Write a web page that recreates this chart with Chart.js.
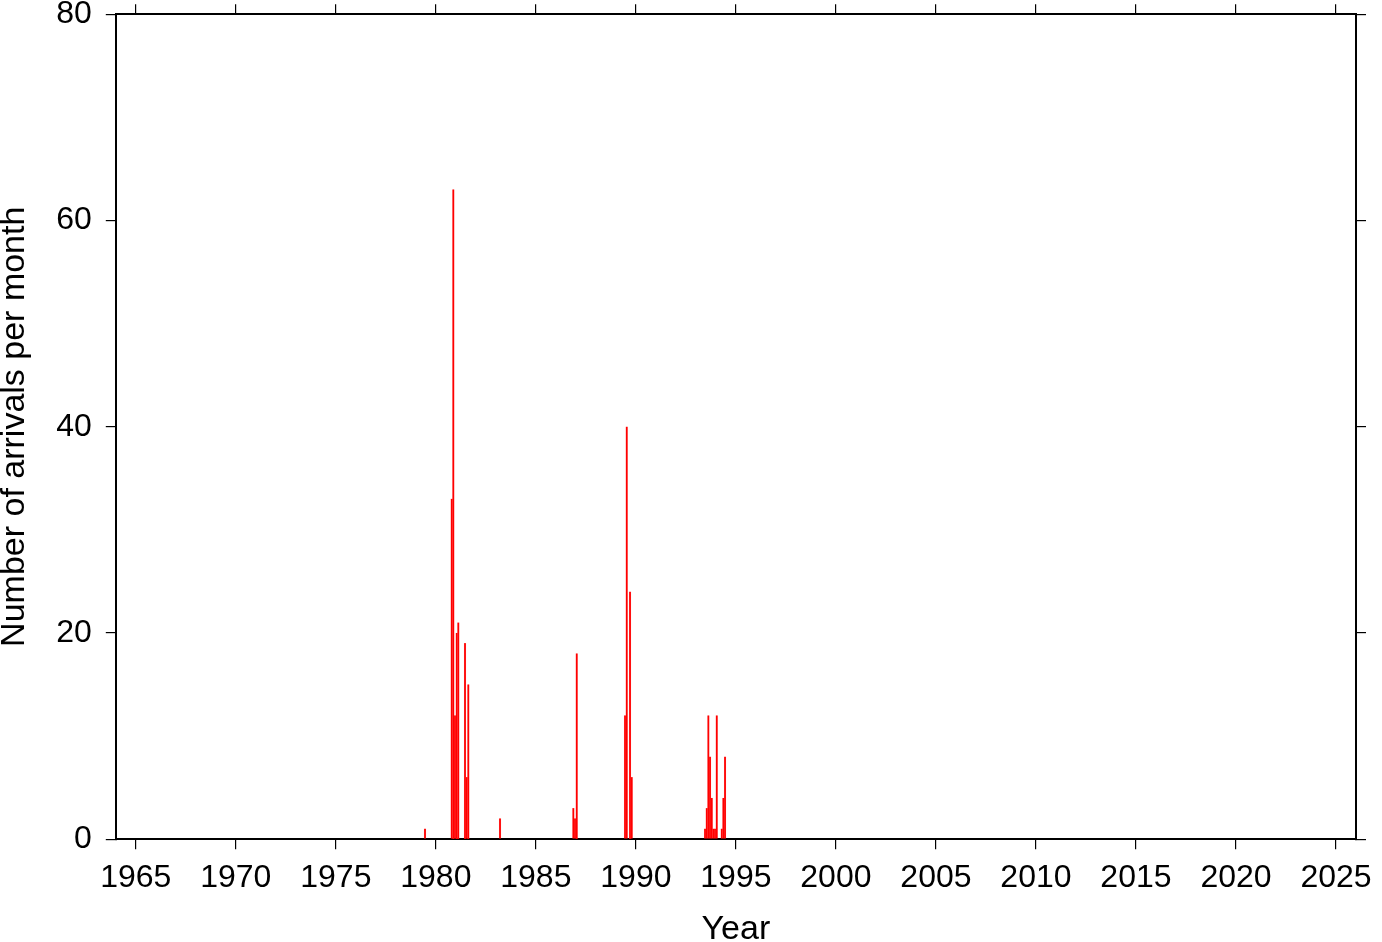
<!DOCTYPE html>
<html>
<head>
<meta charset="utf-8">
<script src="https://cdn.jsdelivr.net/npm/chart.js@4.4.1/dist/chart.umd.min.js"></script>
<style>
  html, body { margin: 0; padding: 0; background: #fff; }
  #wrap { width: 1382px; height: 942px; }
</style>
</head>
<body>
<div id="wrap"><canvas id="arrivals" width="1382" height="942"></canvas></div>
<script>
// monthly arrival counts (only months with arrivals)
var arrivalMonths = ['1979-06',
    '1980-10', '1980-11', '1980-12', '1981-01', '1981-02',
    '1981-06', '1981-07', '1981-08',
    '1983-03',
    '1986-11', '1986-12', '1987-01',
    '1989-06', '1989-07', '1989-09', '1989-10',
    '1993-06', '1993-07', '1993-08', '1993-09', '1993-10', '1993-11', '1993-12',
    '1994-01', '1994-04', '1994-05', '1994-06'];
var arrivalCounts = [1,
    33, 63, 12, 20, 21,
    19, 6, 15,
    2,
    3, 2, 18,
    12, 40, 24, 6,
    1, 3, 12, 8, 4, 1, 1,
    12, 1, 4, 8];

var yearTicks = [1965, 1970, 1975, 1980, 1985, 1990, 1995, 2000, 2005, 2010, 2015, 2020, 2025];
var countTicks = [0, 20, 40, 60, 80];

// month string -> decimal year at the middle of the month
function monthToYear(m) {
    var parts = m.split('-');
    return Number(parts[0]) + (Number(parts[1]) - 1) / 12 + 1 / 24;
}

var points = arrivalMonths.map(function (m, i) {
    return { x: monthToYear(m), y: arrivalCounts[i] };
});

var family = '"Liberation Sans", Arial, Helvetica, sans-serif';
var font = { family: family, size: 32 };

function setTicks(list) {
    return function (scale) {
        scale.ticks = list.map(function (v) { return { value: v }; });
    };
}

var gridStyle = { offset: false, drawOnChartArea: false, drawTicks: true, tickLength: 10, color: '#000', lineWidth: 1.2 };
var borderStyle = { display: true, color: '#000', width: 2 };

var ctx = document.getElementById('arrivals').getContext('2d');
var chart = new Chart(ctx, {
    type: 'bar',
    data: {
        datasets: [{
            data: points,
            backgroundColor: 'rgb(255, 0, 0)',
            borderColor: 'rgba(255, 40, 40, 0.6)',
            borderWidth: 0.3,
            barPercentage: 1,
            categoryPercentage: 1
        }]
    },
    options: {
        responsive: false,
        animation: false,
        events: [],
        layout: { padding: { left: 0, right: 16, top: 3, bottom: 0 } },
        plugins: { legend: { display: false }, tooltip: { enabled: false } },
        scales: {
            x: {
                type: 'linear',
                position: 'bottom',
                offset: false,
                min: 1964,
                max: 2026,
                afterBuildTicks: setTicks(yearTicks),
                grid: gridStyle,
                border: borderStyle,
                ticks: { color: '#000', font: font, padding: 10, maxRotation: 0, autoSkip: false,
                    callback: function (v) { return String(v); } },
                title: { display: true, text: 'Year', color: '#000',
                    font: { family: family, size: 34, lineHeight: 0.7 }, padding: { top: 10.6, bottom: 0 } }
            },
            xTop: {
                type: 'linear',
                position: 'top',
                offset: false,
                min: 1964,
                max: 2026,
                afterBuildTicks: setTicks(yearTicks),
                grid: gridStyle,
                border: borderStyle,
                ticks: { display: false }
            },
            y: {
                type: 'linear',
                position: 'left',
                min: 0,
                max: 80,
                afterBuildTicks: setTicks(countTicks),
                grid: gridStyle,
                border: borderStyle,
                ticks: { color: '#000', font: { family: family, size: 32, lineHeight: 0.02 }, padding: 14 },
                title: { display: true, text: 'Number of arrivals per month', color: '#000',
                    font: { family: family, size: 34, lineHeight: 0.85 }, padding: { top: 0, bottom: 13.3 } }
            },
            yRight: {
                type: 'linear',
                position: 'right',
                min: 0,
                max: 80,
                afterBuildTicks: setTicks(countTicks),
                grid: gridStyle,
                border: borderStyle,
                ticks: { display: false }
            }
        }
    }
});
</script>
</body>
</html>
